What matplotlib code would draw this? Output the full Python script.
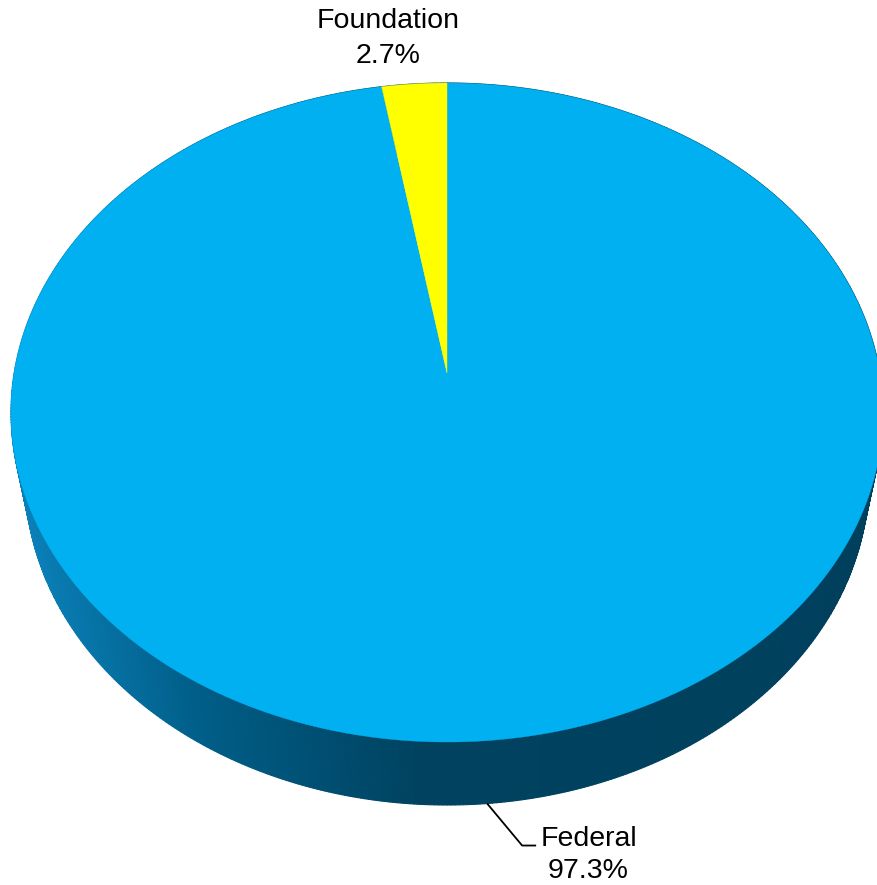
import matplotlib
matplotlib.use('Agg')
import numpy as np
import matplotlib.pyplot as plt
from matplotlib.patches import Polygon

# slice data
labels = ['Federal', 'Foundation']
values = [97.3, 2.7]
colors = ['#00B0F0', '#FFFF00']

# camera for the tilted pie (perspective view)
sin_e, cos_e = 0.7503, 0.6611
dist = 5.515
focal = 2387
depth = 0.244          # thickness of the pie
cx, cy = 447, 373      # where the pie centre lands in pixels


def project(X, Y, Z):
    yc = Y * sin_e + Z * cos_e
    zc = dist + Y * cos_e - Z * sin_e
    return cx + focal * X / zc, cy - focal * yc / zc, zc


# side shading runs from lighter blue at the left to dark teal
shade_x = [10, 200, 420, 900]
shade_rgb = np.array([[0x0c, 0x84, 0xbe],
                      [0x00, 0x5e, 0x88],
                      [0x00, 0x42, 0x60],
                      [0x00, 0x40, 0x5d]]) / 255.0


def side_color(x):
    return tuple(np.interp(x, shade_x, shade_rgb[:, k]) for k in range(3))


fig = plt.figure(figsize=(8.78, 8.85), dpi=100)
ax = fig.add_axes([0, 0, 1, 1])
ax.set_xlim(0, 878)
ax.set_ylim(885, 0)
ax.axis('off')

# side wall, drawn back to front
t = np.linspace(0, 2 * np.pi, 721)
quads = []
for t1, t2 in zip(t[:-1], t[1:]):
    pts = []
    for tt, z in ((t1, 0), (t2, 0), (t2, -depth), (t1, -depth)):
        px, py, _ = project(np.cos(tt), np.sin(tt), z)
        pts.append((px, py))
    _, _, zc = project(np.cos((t1 + t2) / 2), np.sin((t1 + t2) / 2), -depth / 2)
    mx = np.mean([p[0] for p in pts])
    quads.append((zc, pts, side_color(mx)))
quads.sort(key=lambda q: -q[0])
for _, pts, col in quads:
    ax.add_patch(Polygon(pts, closed=True, facecolor=col, edgecolor=col, lw=0.8))

# top face wedges, clockwise from 12 o'clock
total = sum(values)
start = 90.0
mids = []
for val, col in zip(values, colors):
    sweep = val / total * 360
    ang = np.radians(np.linspace(start, start - sweep, 400))
    pts = [project(0, 0, 0)[:2]]
    for a in ang:
        px, py, _ = project(np.cos(a), np.sin(a), 0)
        pts.append((px, py))
    ax.add_patch(Polygon(pts, closed=True, facecolor=col, edgecolor=col, lw=0.3))
    mids.append(np.radians(start - sweep / 2))
    start -= sweep

font = dict(family=['Liberation Sans', 'DejaVu Sans'], fontsize=20.5, color='black')

# Federal label with a leader line from the bottom rim
fx, fy, _ = project(np.cos(mids[0]), np.sin(mids[0]), -depth)
ax.plot([fx, fx + 35, fx + 49], [fy, fy + 42, fy + 42], color='black', lw=1.3,
        solid_capstyle='butt')
ax.text(589, 846, labels[0], ha='center', va='baseline', **font)
ax.text(588, 878, f'{values[0]:.1f}%', ha='center', va='baseline', **font)

# Foundation label above the pie
ax.text(388, 28, labels[1], ha='center', va='baseline', **font)
ax.text(388, 63, f'{values[1]:.1f}%', ha='center', va='baseline', **font)

fig.savefig('out.png', dpi=100)
